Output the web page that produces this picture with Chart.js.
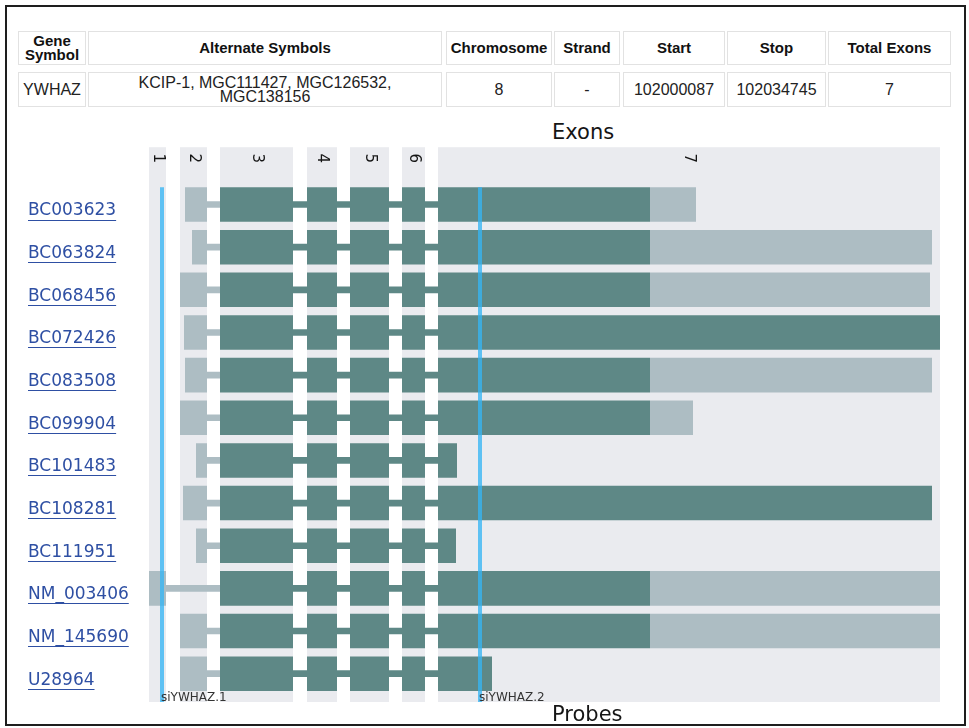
<!DOCTYPE html>
<html><head><meta charset="utf-8">
<script src="https://cdn.jsdelivr.net/npm/chart.js@4.4.1/dist/chart.umd.min.js"></script>
<style>
html,body{margin:0;padding:0;background:#fff;}
body{width:969px;height:728px;position:relative;overflow:hidden;font-family:"Liberation Sans",Arial,sans-serif;}
#frame{position:absolute;left:5px;top:5px;width:957px;height:717px;border:2px solid #1e1e1e;}
.cell{position:absolute;box-sizing:border-box;border:1px solid #e2e2e2;display:flex;align-items:center;justify-content:center;text-align:center;}
.h{top:31px;height:34px;font-weight:bold;font-size:15px;line-height:14px;color:#111;}
.d{top:72px;height:35px;font-size:16px;line-height:14px;color:#222;}
#chartBox{position:absolute;left:0;top:115px;width:969px;height:613px;}
.ttl{position:absolute;left:552px;font-family:"DejaVu Sans";font-size:21px;line-height:21px;color:#151515;white-space:nowrap;}
</style></head>
<body>
<div id="frame"></div>
<div id="table"></div>
<div class="ttl" style="top:122px">Exons</div>
<div id="chartBox"><canvas id="c"></canvas></div>
<div class="ttl" style="top:704px">Probes</div>
<script>
// ---- table ----
const tableHeaders = ['Gene<br>Symbol','Alternate Symbols','Chromosome','Strand','Start','Stop','Total Exons'];
const tableValues = ['YWHAZ','KCIP-1, MGC111427, MGC126532,<br>MGC138156','8','-','102000087','102034745','7'];
const cellLeft = [18,88,446,554,623,727,828];
const cellWidth = [68,354,106,66,102,99,123];

// ---- chart data ----
const transcripts = ['BC003623','BC063824','BC068456','BC072426','BC083508','BC099904','BC101483','BC108281','BC111951','NM_003406','NM_145690','U28964'];
const exonNames = ['1','2','3','4','5','6','7'];
const exonStart = [0,31,71,158,201,253,289];
const exonEnd   = [17,58,144,188,240,276,791];
const utr5Start = [36,43,31,35,36,31,47,34,47,0,31,31];
const utr5End   = [58,58,58,58,58,58,58,58,58,17,58,58];
const cdsEnd    = [501,501,501,791,501,501,308,783,307,501,501,343];
const utr3End   = [547,783,781,null,783,544,null,null,null,791,791,null];
const probeNames = ['siYWHAZ.1','siYWHAZ.2'];
const probePos   = [13,331];

const tbl = document.getElementById('table');
tableHeaders.forEach((t,i)=>{
  const h=document.createElement('div'); h.className='cell h';
  h.style.left=cellLeft[i]+'px'; h.style.width=cellWidth[i]+'px'; h.innerHTML=t; tbl.appendChild(h);
  const d=document.createElement('div'); d.className='cell d';
  d.style.left=cellLeft[i]+'px'; d.style.width=cellWidth[i]+'px'; d.innerHTML=tableValues[i]; tbl.appendChild(d);
});

const TEAL='#5e8886', LIGHT='#adbdc3', BG='#eaebef', PROBE='rgba(54,181,243,0.78)', LINK='#2e4fa3';
const CATPCT=0.81;

const datasets=[];
function barSet(data,color,thin){
  const ds={data,backgroundColor:color,borderWidth:0,grouped:false,
    categoryPercentage:CATPCT,barPercentage:1,order:thin?10:0};
  if(thin){ds.barThickness=6;}
  datasets.push(ds);
}
for(let e=2;e<=5;e++){
  barSet(transcripts.map(()=>[exonStart[e],exonEnd[e]]),TEAL,false);
}
barSet(transcripts.map((t,r)=>[exonStart[6],cdsEnd[r]]),TEAL,false);
barSet(transcripts.map((t,r)=>utr3End[r]===null?null:[cdsEnd[r],utr3End[r]]),LIGHT,false);
barSet(transcripts.map((t,r)=>[utr5Start[r],utr5End[r]]),LIGHT,false);
barSet(transcripts.map((t,r)=>[utr5End[r],exonStart[2]]),LIGHT,true);
barSet(transcripts.map(()=>[exonEnd[2],exonStart[6]]),TEAL,true);

const genePlugin={
  id:'gene',
  beforeDatasetsDraw(chart){
    const {ctx,chartArea:a,scales:{x}}=chart;
    ctx.save();
    ctx.fillStyle=BG;
    for(let i=0;i<exonNames.length;i++){
      const x0=x.getPixelForValue(exonStart[i]), x1=x.getPixelForValue(exonEnd[i]);
      ctx.fillRect(x0,a.top-36,x1-x0,a.bottom+7-(a.top-36));
    }
    ctx.fillStyle='#151515';
    ctx.font='15px "DejaVu Sans"';
    ctx.textAlign='center'; ctx.textBaseline='middle';
    for(let i=0;i<exonNames.length;i++){
      const cx=(x.getPixelForValue(exonStart[i])+x.getPixelForValue(exonEnd[i]))/2;
      ctx.save(); ctx.translate(cx,a.top-25); ctx.rotate(Math.PI/2);
      ctx.fillText(exonNames[i],0,0); ctx.restore();
    }
    ctx.restore();
  },
  afterDatasetsDraw(chart){
    const {ctx,chartArea:a,scales:{x,y}}=chart;
    const cat=(a.bottom-a.top)/transcripts.length;
    const top=y.getPixelForValue(0)-cat*CATPCT/2;
    ctx.save();
    ctx.fillStyle=PROBE;
    probePos.forEach(p=>{
      const px=x.getPixelForValue(p);
      ctx.fillRect(px-2,top,4,a.bottom+7-top);
    });
    ctx.fillStyle='#333'; ctx.font='12px "DejaVu Sans"';
    ctx.textAlign='left'; ctx.textBaseline='alphabetic';
    probePos.forEach((p,i)=>{
      ctx.fillText(probeNames[i],x.getPixelForValue(p)-1,a.bottom+6);
    });
    ctx.restore();
  },
  afterDraw(chart){
    const {ctx,scales:{y}}=chart;
    ctx.save();
    ctx.font='17px "DejaVu Sans"';
    ctx.strokeStyle=LINK; ctx.lineWidth=1;
    transcripts.forEach((t,i)=>{
      const w=ctx.measureText(t).width;
      const yy=Math.round(y.getPixelForValue(i)+15)+0.5;
      ctx.beginPath(); ctx.moveTo(y.left,yy); ctx.lineTo(y.left+w,yy); ctx.stroke();
    });
    ctx.restore();
  }
};

new Chart(document.getElementById('c'),{
  type:'bar',
  data:{labels:transcripts,datasets},
  options:{
    indexAxis:'y',responsive:true,maintainAspectRatio:false,animation:false,
    layout:{padding:{left:28,right:29,top:68.2,bottom:33}},
    plugins:{legend:{display:false},tooltip:{enabled:false},title:{display:false}},
    scales:{
      x:{type:'linear',min:0,max:791,display:false},
      y:{grid:{display:false},border:{display:false},
        ticks:{color:LINK,font:{family:'"DejaVu Sans"',size:17},crossAlign:'far',padding:0,labelOffset:6.5},
        afterFit(s){s.width=121;}}
    }
  },
  plugins:[genePlugin]
});
</script>
</body></html>
